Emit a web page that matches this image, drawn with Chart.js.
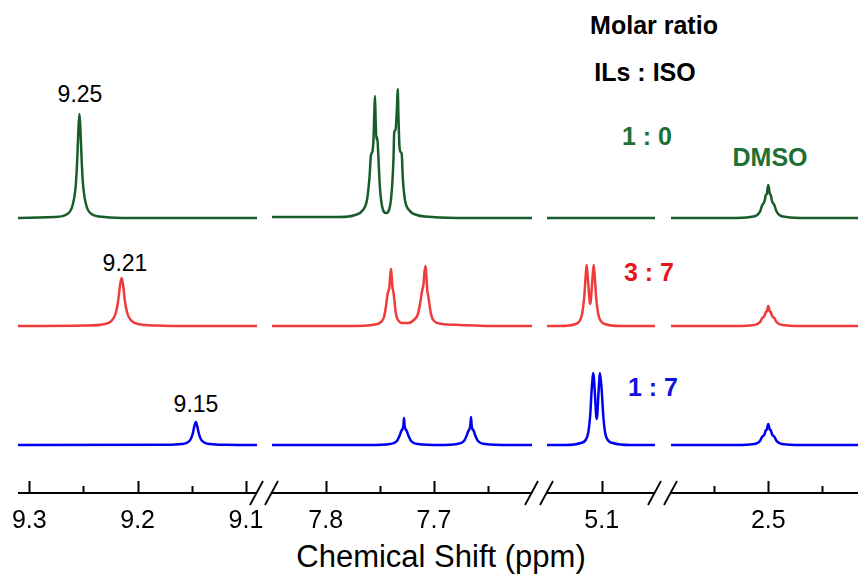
<!DOCTYPE html>
<html lang="en">
<head>
<meta charset="UTF-8">
<title>1H NMR – Molar ratio ILs : ISO</title>
<script src="https://cdn.jsdelivr.net/npm/chart.js"></script>
<style>
    body {
        margin: 0;
        background: #fff;
        font-family: "Liberation Sans", Arial, sans-serif;
        overflow: hidden;
    }
    #figure {
        position: relative;
        width: 858px;
        height: 578px;
        overflow: hidden;
    }
    #figure canvas {
        position: absolute;
        top: 0;
    }
    .lbl {
        position: absolute;
        transform: translate(-50%, -50%);
        white-space: nowrap;
        line-height: 1;
    }
    .num { font-size: 23px; color: #000; }
    .bold { font-size: 25px; font-weight: bold; }
</style>
</head>
<body>
<div id="figure">
    <div class="lbl num" style="left:80px; top:94px;">9.25</div>
    <div class="lbl num" style="left:125px; top:263px;">9.21</div>
    <div class="lbl num" style="left:196px; top:404px;">9.15</div>
    <div class="lbl bold" style="left:654px; top:25px; color:#000;">Molar ratio</div>
    <div class="lbl bold" style="left:645px; top:72px; color:#000;">ILs : ISO</div>
    <div class="lbl bold" style="left:647px; top:136px; color:#1f7035;">1 : 0</div>
    <div class="lbl bold" style="left:770px; top:157px; color:#1f7035;">DMSO</div>
    <div class="lbl bold" style="left:649px; top:272px; color:#e8161c;">3 : 7</div>
    <div class="lbl bold" style="left:653px; top:387px; color:#1111dd;">1 : 7</div>
    <div class="lbl" style="left:441px; top:556px; font-size:31px; color:#000;">Chemical Shift (ppm)</div>
</div>

<script>
// axis segments of the broken ppm axis (high ppm on the left)
const segMax = [9.3104, 7.8496, 5.1505, 2.5898];
const segMin = [9.0898, 7.6095, 5.0508, 2.4098];

// tick values and labels
const majorTicks = [9.3, 9.2, 9.1, 7.8, 7.7, 5.1, 2.5];
const majorLabels = ['9.3', '9.2', '9.1', '7.8', '7.7', '5.1', '2.5'];
const minorTicks = [9.25, 9.15, 7.75, 7.65, 2.55, 2.45];

// spectra as [ppm, intensity]
const spectrum10 = [ // ILs : ISO = 1 : 0
    [9.32, 0], [9.2769, 1], [9.2648, 4], [9.2602, 12], [9.2574, 29], [9.2560, 52], [9.2546, 89], [9.2537, 104],
    [9.2528, 89], [9.2514, 52], [9.2500, 29], [9.2472, 12], [9.2426, 4], [9.2306, 1], [9.2074, 0],
    [7.7868, 1], [7.7729, 3], [7.7656, 8], [7.7619, 18], [7.7596, 40], [7.7582, 63], [7.7570, 66], [7.7559, 78],
    [7.7551, 105], [7.7545, 122], [7.7538, 95], [7.7531, 78], [7.7524, 81], [7.7514, 62], [7.7499, 30], [7.7480, 12],
    [7.7443, 5], [7.7406, 12], [7.7388, 30], [7.7374, 60], [7.7367, 86], [7.7356, 88], [7.7343, 108], [7.7335, 129],
    [7.7328, 100], [7.7319, 72], [7.7308, 66], [7.7298, 64], [7.7288, 40], [7.7268, 18], [7.7231, 8], [7.7157, 3],
    [7.7018, 1], [7.6668, 0],
    [2.5352, 0], [2.5167, 1], [2.5102, 3], [2.5074, 7], [2.5056, 13], [2.5042, 15], [2.5032, 18], [2.5023, 23],
    [2.5014, 24], [2.5006, 30], [2.5000, 33], [2.4994, 30], [2.4986, 24], [2.4977, 23], [2.4968, 18], [2.4958, 15],
    [2.4944, 13], [2.4926, 7], [2.4898, 3], [2.4833, 1], [2.4648, 0], [2.40, 0]
];
const spectrum37 = [ // ILs : ISO = 3 : 7
    [9.32, 0], [9.2472, 0.5], [9.2315, 1.8], [9.2241, 5.2], [9.2204, 12], [9.2181, 24], [9.2162, 41], [9.2148, 48],
    [9.2134, 41], [9.2116, 24], [9.2093, 12], [9.2056, 5.2], [9.1981, 1.8], [9.1824, 0.5], [9.15, 0],
    [7.7776, 0], [7.7572, 1], [7.7489, 4], [7.7462, 9], [7.7443, 20], [7.7429, 32], [7.7420, 35], [7.7411, 40],
    [7.7404, 51], [7.7397, 57], [7.7391, 50], [7.7383, 38], [7.7376, 35], [7.7365, 25], [7.7351, 12], [7.7332, 6],
    [7.7295, 3], [7.7240, 3], [7.7185, 6], [7.7148, 12], [7.7129, 22], [7.7115, 32], [7.7106, 37], [7.7097, 42],
    [7.7088, 54], [7.7078, 60], [7.7071, 52], [7.7063, 36], [7.7055, 31], [7.7046, 25], [7.7028, 12], [7.7000, 5],
    [7.6926, 2], [7.6760, 1], [7.6483, 0],
    [5.1380, 0], [5.1241, 2], [5.1204, 5], [5.1181, 12], [5.1162, 28], [5.1148, 50], [5.1139, 61], [5.1128, 48],
    [5.1106, 22], [5.1085, 48], [5.1074, 61], [5.1065, 50], [5.1051, 28], [5.1032, 12], [5.1009, 5], [5.0972, 2],
    [5.0824, 0],
    [2.5352, 0], [2.5167, 0.6], [2.5102, 1.8], [2.5074, 4.2], [2.5056, 8], [2.5042, 9], [2.5032, 11], [2.5023, 14],
    [2.5014, 14.5], [2.5006, 18], [2.5000, 20], [2.4994, 18], [2.4986, 14.5], [2.4977, 14], [2.4968, 11], [2.4958, 9],
    [2.4944, 8], [2.4926, 4.2], [2.4898, 1.8], [2.4833, 0.6], [2.4648, 0], [2.40, 0]
];
const spectrum17 = [ // ILs : ISO = 1 : 7
    [9.32, 0], [9.1741, 0.2], [9.1593, 1], [9.1537, 2.8], [9.1509, 6], [9.1491, 11.5], [9.1477, 18.4], [9.1463, 23],
    [9.1449, 18.4], [9.1435, 11.5], [9.1417, 6], [9.1389, 2.8], [9.1333, 1], [9.1185, 0.2], [9.09, 0],
    [7.7591, 0], [7.7406, 1], [7.7342, 4], [7.7319, 9], [7.7302, 14], [7.7291, 16], [7.7283, 19], [7.7277, 27],
    [7.7271, 19], [7.7263, 16], [7.7252, 14], [7.7235, 9], [7.7212, 4], [7.7148, 1], [7.6945, 0],
    [7.6788, 1], [7.6723, 4], [7.6700, 9], [7.6683, 14], [7.6672, 16], [7.6665, 19], [7.6658, 28], [7.6652, 19],
    [7.6645, 16], [7.6633, 14], [7.6617, 9], [7.6594, 4], [7.6529, 1], [7.6298, 0],
    [5.1333, 0], [5.1194, 2], [5.1148, 5], [5.1125, 12], [5.1106, 30], [5.1091, 58], [5.1076, 72], [5.1065, 55],
    [5.1046, 26], [5.1028, 55], [5.1017, 72], [5.1002, 58], [5.0986, 30], [5.0968, 12], [5.0944, 5], [5.0898, 2],
    [5.0731, 0],
    [2.5352, 0], [2.5167, 0.6], [2.5102, 1.9], [2.5074, 4.5], [2.5056, 8.3], [2.5042, 9.6], [2.5032, 11.5], [2.5023, 14.7],
    [2.5014, 15.4], [2.5006, 19], [2.5000, 21], [2.4994, 19], [2.4986, 15.4], [2.4977, 14.7], [2.4968, 11.5], [2.4958, 9.6],
    [2.4944, 8.3], [2.4926, 4.5], [2.4898, 1.9], [2.4833, 0.6], [2.4648, 0], [2.40, 0]
];

// layout: traces are stacked with a vertical offset (1 y unit = 1 px)
const PX_PER_PPM = 1083;
const segLeft = [18, 272, 547, 671];
const Y_TOP = 493;
const series = [
    { data: spectrum10, offset: 275, color: '#175c2a' },
    { data: spectrum37, offset: 167, color: '#ef3b3b' },
    { data: spectrum17, offset: 48,  color: '#0000f0' }
];

const isMajor = v => majorTicks.some(t => Math.abs(t - v) < 1e-6);

// axis line, inward ticks and the // break marks
const brokenAxis = {
    id: 'brokenAxis',
    afterDraw(chart, args, opts) {
        const { ctx, chartArea: a } = chart;
        const x = chart.scales.x;
        const y0 = a.bottom;
        ctx.save();
        ctx.strokeStyle = '#000';
        ctx.lineWidth = 2;
        ctx.beginPath();
        ctx.moveTo(a.left, y0);
        ctx.lineTo(a.right, y0);
        x.ticks.forEach(t => {
            const px = Math.round(x.getPixelForValue(t.value)) + 0.5;
            ctx.moveTo(px, y0);
            ctx.lineTo(px, y0 - (isMajor(t.value) ? 12 : 7));
        });
        ctx.stroke();
        ctx.lineWidth = 1.8;
        ctx.beginPath();
        if (opts.left) {
            ctx.moveTo(a.left - 7, y0 + 12);
            ctx.lineTo(a.left + 6, y0 - 12);
        }
        if (opts.right) {
            ctx.moveTo(a.right - 7, y0 + 12);
            ctx.lineTo(a.right + 6, y0 - 12);
        }
        ctx.stroke();
        ctx.restore();
    }
};

const figure = document.getElementById('figure');

segMin.forEach((min, i) => {
    const max = segMax[i];
    const w = Math.round((max - min) * PX_PER_PPM);
    const canvas = document.createElement('canvas');
    canvas.width = w + 24;
    canvas.height = 578;
    canvas.style.left = (segLeft[i] - 12) + 'px';
    figure.appendChild(canvas);

    new Chart(canvas, {
        type: 'line',
        data: {
            datasets: series.map(s => ({
                data: s.data.map(p => ({ x: p[0], y: p[1] + s.offset })),
                borderColor: s.color,
                borderWidth: 2.5,
                pointRadius: 0,
                fill: false,
                cubicInterpolationMode: 'monotone'
            }))
        },
        options: {
            responsive: false,
            animation: false,
            devicePixelRatio: 1,
            layout: { padding: { left: 12, right: 12, top: 0, bottom: 45 } },
            plugins: {
                legend: { display: false },
                tooltip: { enabled: false },
                brokenAxis: { left: i > 0, right: i < segMin.length - 1 }
            },
            scales: {
                x: {
                    type: 'linear',
                    reverse: true,
                    min: min,
                    max: max,
                    grid: { display: false, drawTicks: false },
                    border: { display: false },
                    afterBuildTicks: sc => {
                        sc.ticks = majorTicks.concat(minorTicks)
                            .filter(v => v > min + 0.002 && v < max - 0.002)
                            .sort((a, b) => b - a)
                            .map(v => ({ value: v }));
                    },
                    afterFit: sc => {
                        sc.height = 40;
                        sc.paddingLeft = 0;
                        sc.paddingRight = 0;
                    },
                    ticks: {
                        autoSkip: false,
                        maxRotation: 0,
                        padding: 13,
                        color: '#000',
                        font: { family: '"Liberation Sans", Arial, sans-serif', size: 25 },
                        callback: v => {
                            const k = majorTicks.findIndex(t => Math.abs(t - v) < 1e-6);
                            return k >= 0 ? majorLabels[k] : '';
                        }
                    }
                },
                y: { display: false, min: 0, max: Y_TOP }
            }
        },
        plugins: [brokenAxis]
    });
});
</script>
</body>
</html>
